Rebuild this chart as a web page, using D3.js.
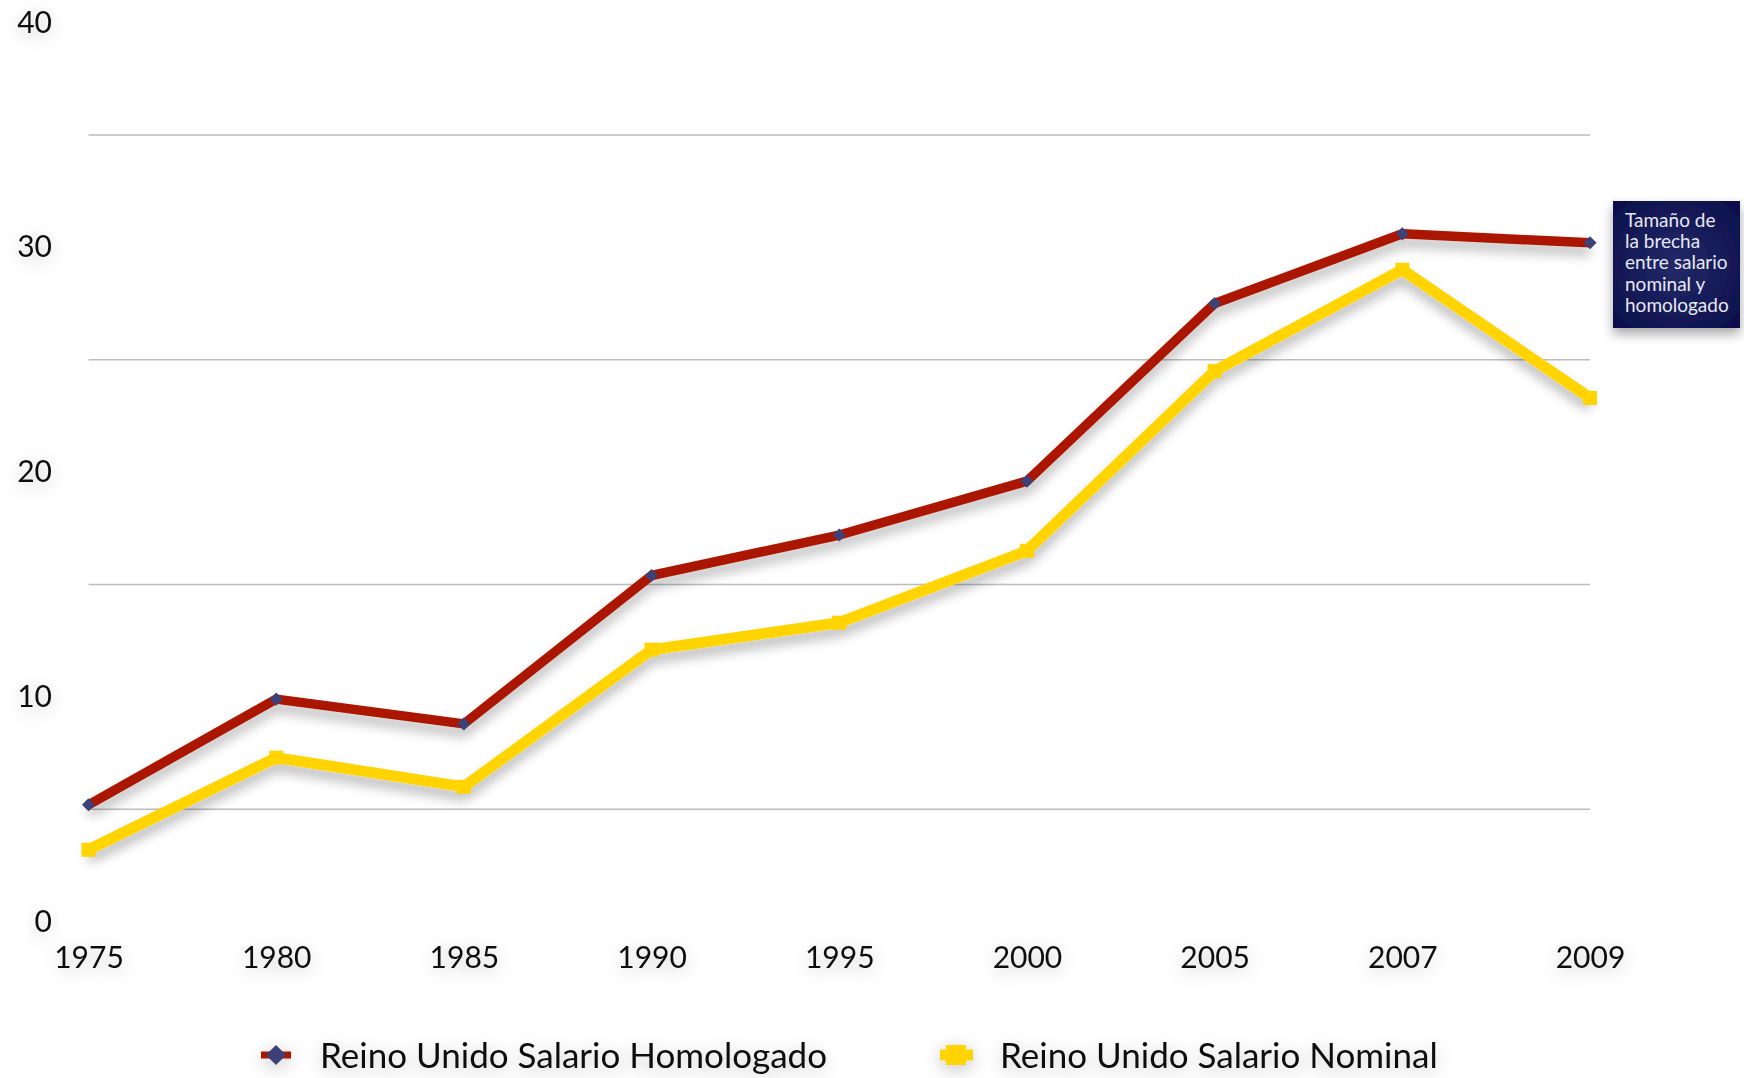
<!DOCTYPE html>
<html>
<head>
<meta charset="utf-8">
<script src="https://cdn.jsdelivr.net/npm/d3@7"></script>
<style>
    body { margin: 0; background: #fff; }
    svg { display: block; font-family: Lato, "Open Sans", sans-serif; }
</style>
</head>
<body>
<svg id="chart" width="1744" height="1078"></svg>
<script>
// datos
const years = ['1975', '1980', '1985', '1990', '1995', '2000', '2005', '2007', '2009'];
const homologado = [5.2, 9.9, 8.8, 15.4, 17.2, 19.6, 27.5, 30.6, 30.2];
const nominal = [3.2, 7.3, 6.0, 12.1, 13.3, 16.5, 24.5, 29.0, 23.3];
const yTicks = [0, 10, 20, 30, 40];
const gridValues = [5, 15, 25, 35];
const seriesNames = ['Reino Unido Salario Homologado', 'Reino Unido Salario Nominal'];
const noteLines = ['Tamaño de', 'la brecha', 'entre salario', 'nominal y', 'homologado'];

const svg = d3.select('#chart');

const x = d3.scalePoint().domain(years).range([88.5, 1590]);
const y = d3.scaleLinear().domain([0, 40]).range([921.7, 22.5]);

// sombras
const defs = svg.append('defs');
defs.append('filter')
    .attr('id', 'lineShadow')
    .attr('x', '-10%').attr('y', '-20%')
    .attr('width', '120%').attr('height', '160%')
    .append('feDropShadow')
    .attr('dx', 0).attr('dy', 8)
    .attr('stdDeviation', 6)
    .attr('flood-color', '#000')
    .attr('flood-opacity', 0.28);

defs.append('filter')
    .attr('id', 'textShadow')
    .attr('x', '-40%').attr('y', '-80%')
    .attr('width', '180%').attr('height', '260%')
    .append('feDropShadow')
    .attr('dx', 0).attr('dy', 4)
    .attr('stdDeviation', 9)
    .attr('flood-color', '#000')
    .attr('flood-opacity', 0.24);

defs.append('filter')
    .attr('id', 'boxShadow')
    .attr('x', '-20%').attr('y', '-20%')
    .attr('width', '140%').attr('height', '150%')
    .append('feDropShadow')
    .attr('dx', 0).attr('dy', 6)
    .attr('stdDeviation', 6)
    .attr('flood-color', '#000')
    .attr('flood-opacity', 0.35);

const grad = defs.append('radialGradient')
    .attr('id', 'boxFill')
    .attr('cx', '50%').attr('cy', '50%').attr('r', '70%');
grad.append('stop').attr('offset', '0%').attr('stop-color', '#232a68');
grad.append('stop').attr('offset', '100%').attr('stop-color', '#0a0e4a');

// lineas de cuadricula
svg.append('g')
    .selectAll('line')
    .data(gridValues)
    .enter()
    .append('line')
    .attr('x1', x('1975'))
    .attr('x2', x('2009'))
    .attr('y1', d => y(d))
    .attr('y2', d => y(d))
    .attr('stroke', '#bdbdbd')
    .attr('stroke-width', 1.5);

// ejes
const yAxis = svg.append('g')
    .attr('transform', 'translate(60,0)')
    .call(d3.axisLeft(y).tickValues(yTicks).tickSize(0).tickPadding(8));
yAxis.select('.domain').remove();
yAxis.selectAll('text')
    .attr('font-family', 'Lato, sans-serif')
    .attr('font-size', 30)
    .attr('fill', '#111')
    .attr('filter', 'url(#textShadow)');

const xAxis = svg.append('g')
    .attr('transform', `translate(0,${y(0)})`)
    .call(d3.axisBottom(x).tickSize(0).tickPadding(25));
xAxis.select('.domain').remove();
xAxis.selectAll('text')
    .attr('font-family', 'Lato, sans-serif')
    .attr('font-size', 30)
    .attr('fill', '#111')
    .attr('filter', 'url(#textShadow)');

const line = d3.line()
    .x((d, i) => x(years[i]))
    .y(d => y(d));

// serie homologado
svg.append('path')
    .datum(homologado)
    .attr('d', line)
    .attr('fill', 'none')
    .attr('stroke', '#aa1500')
    .attr('stroke-width', 9.5)
    .attr('stroke-linejoin', 'round')
    .attr('filter', 'url(#lineShadow)');

// serie nominal
svg.append('path')
    .datum(nominal)
    .attr('d', line)
    .attr('fill', 'none')
    .attr('stroke', '#ffd400')
    .attr('stroke-width', 11)
    .attr('stroke-linejoin', 'miter')
    .attr('filter', 'url(#lineShadow)');

// marcadores
svg.append('g')
    .selectAll('rect')
    .data(nominal)
    .enter()
    .append('rect')
    .attr('x', (d, i) => x(years[i]) - 7)
    .attr('y', d => y(d) - 7)
    .attr('width', 14)
    .attr('height', 14)
    .attr('fill', '#ffd400');

const diamond = d3.symbol().type(d3.symbolDiamond2).size(110);
svg.append('g')
    .selectAll('path')
    .data(homologado)
    .enter()
    .append('path')
    .attr('d', diamond)
    .attr('transform', (d, i) => `translate(${x(years[i])},${y(d)})`)
    .attr('fill', '#3d4178');

// recuadro de nota
const note = svg.append('g');
note.append('rect')
    .attr('x', 1613)
    .attr('y', 201)
    .attr('width', 127)
    .attr('height', 127)
    .attr('fill', 'url(#boxFill)')
    .attr('filter', 'url(#boxShadow)');
note.selectAll('text')
    .data(noteLines)
    .enter()
    .append('text')
    .attr('x', 1625)
    .attr('y', (d, i) => 226.5 + i * 21.4)
    .attr('font-size', 19)
    .attr('fill', '#e8e8f2')
    .text(d => d);

// leyenda
const legend = svg.append('g').attr('filter', 'url(#textShadow)');
const legendY = 1055;

legend.append('line')
    .attr('x1', 261).attr('x2', 291)
    .attr('y1', legendY).attr('y2', legendY)
    .attr('stroke', '#aa1500')
    .attr('stroke-width', 7);
legend.append('path')
    .attr('d', d3.symbol().type(d3.symbolDiamond2).size(260))
    .attr('transform', `translate(276,${legendY})`)
    .attr('fill', '#3d4178');

legend.append('line')
    .attr('x1', 940).attr('x2', 973)
    .attr('y1', legendY).attr('y2', legendY)
    .attr('stroke', '#ffd400')
    .attr('stroke-width', 11);
legend.append('rect')
    .attr('x', 946).attr('y', legendY - 10)
    .attr('width', 20).attr('height', 20)
    .attr('fill', '#ffd400');

legend.selectAll('text')
    .data(seriesNames)
    .enter()
    .append('text')
    .attr('x', (d, i) => i == 0 ? 320 : 1000)
    .attr('y', legendY + 13)
    .attr('font-size', 35)
    .attr('fill', '#111')
    .text(d => d);
</script>
</body>
</html>
